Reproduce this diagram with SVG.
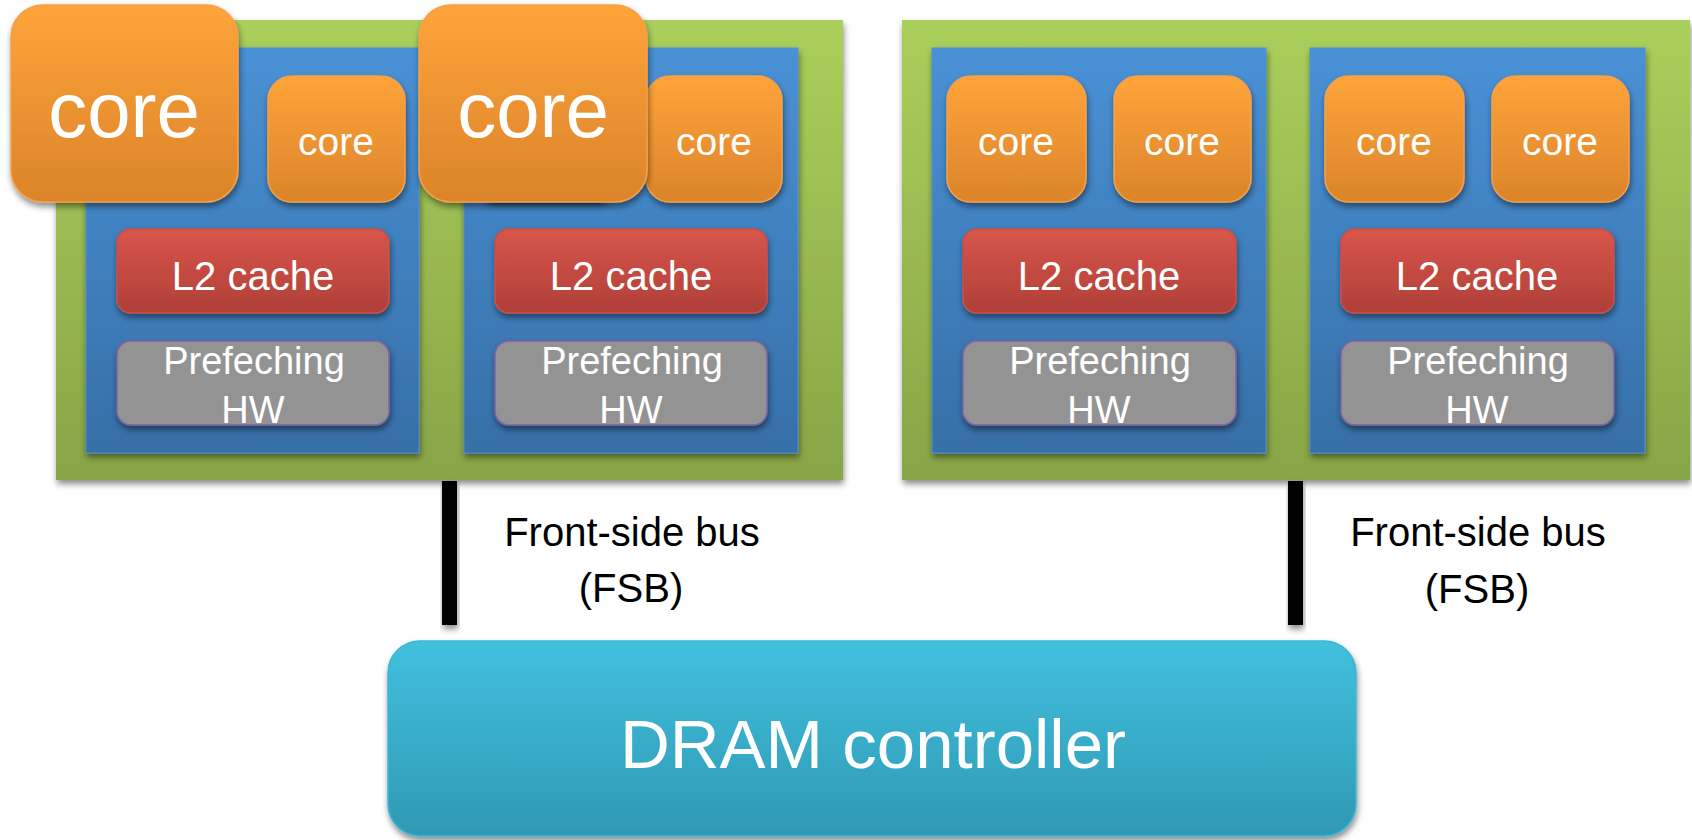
<svg xmlns="http://www.w3.org/2000/svg" width="1692" height="840" viewBox="0 0 1692 840">
  <defs>
    <linearGradient id="gGreen" x1="0" y1="0" x2="0" y2="1">
      <stop offset="0" stop-color="#abcf5b"/>
      <stop offset="1" stop-color="#88a546"/>
    </linearGradient>
    <linearGradient id="gBlue" x1="0" y1="0" x2="0" y2="1">
      <stop offset="0" stop-color="#4a91d6"/>
      <stop offset="1" stop-color="#366fa7"/>
    </linearGradient>
    <linearGradient id="gOrange" x1="0" y1="0" x2="0" y2="1">
      <stop offset="0" stop-color="#fea43a"/>
      <stop offset="1" stop-color="#db842a"/>
    </linearGradient>
    <linearGradient id="gRed" x1="0" y1="0" x2="0" y2="1">
      <stop offset="0" stop-color="#d9564b"/>
      <stop offset="1" stop-color="#af3f38"/>
    </linearGradient>
    <linearGradient id="gCyan" x1="0" y1="0" x2="0" y2="1">
      <stop offset="0" stop-color="#41c0df"/>
      <stop offset="1" stop-color="#2f99b3"/>
    </linearGradient>
    <filter id="shadow" x="-10%" y="-10%" width="130%" height="130%">
      <feDropShadow dx="1" dy="4" stdDeviation="3" flood-color="#000" flood-opacity="0.45"/>
    </filter>
    <filter id="blur" x="-20%" y="-100%" width="140%" height="300%">
      <feGaussianBlur stdDeviation="3"/>
    </filter>
  </defs>
  <style>
    .chip { fill: url(#gGreen); filter: url(#shadow); }
    .die { fill: url(#gBlue); stroke: #4f8fd0; stroke-width: 1; filter: url(#shadow); }
    .core { fill: url(#gOrange); stroke: #f5a04a; stroke-width: 1.5; filter: url(#shadow); }
    .l2 { fill: url(#gRed); stroke: #c95048; stroke-width: 1.5; filter: url(#shadow); }
    .pf { fill: #939393; stroke: #8064a2; stroke-width: 1.5; filter: url(#shadow); }
    .dram { fill: url(#gCyan); stroke: #3cb6d4; stroke-width: 1.5; filter: url(#shadow); }
    .bus { fill: #000; filter: url(#shadow); }
    text { font-family: "Liberation Sans", Arial, sans-serif; fill: #fff; text-anchor: middle; }
    .big { font-size: 78px; }
    .sm { font-size: 39px; }
    .l2t { font-size: 40px; }
    .pft { font-size: 38px; }
    .lbl { font-size: 40px; fill: #000; }
    .dramt { font-size: 69px; }
  </style>

  <!-- processor packages -->
  <g id="chip-left"><rect class="chip" x="56" y="20" width="787" height="460"/></g>
  <g id="chip-right"><rect class="chip" x="902" y="20" width="788" height="460"/></g>

  <!-- dies -->
  <g id="die-1"><rect class="die" x="86" y="48" width="333" height="405"/></g>
  <g id="die-2"><rect class="die" x="464" y="48" width="334" height="405"/></g>
  <g id="die-3"><rect class="die" x="932" y="48" width="334" height="405"/></g>
  <g id="die-4"><rect class="die" x="1310" y="48" width="335" height="405"/></g>

  <!-- cores -->
  <g id="core-1b"><rect class="core" x="268" y="76" width="137" height="126" rx="24"/><text class="sm" x="336" y="155">core</text></g>
  <g id="core-2b"><rect class="core" x="646" y="76" width="136" height="126" rx="24"/><text class="sm" x="714" y="155">core</text></g>
  <g id="core-3a"><rect class="core" x="947" y="76" width="139" height="126" rx="24"/><text class="sm" x="1016" y="155">core</text></g>
  <g id="core-3b"><rect class="core" x="1114" y="76" width="137" height="126" rx="24"/><text class="sm" x="1182" y="155">core</text></g>
  <g id="core-4a"><rect class="core" x="1325" y="76" width="139" height="126" rx="24"/><text class="sm" x="1394" y="155">core</text></g>
  <g id="core-4b"><rect class="core" x="1492" y="76" width="137" height="126" rx="24"/><text class="sm" x="1560" y="155">core</text></g>

  <!-- L2 caches -->
  <g id="l2-1"><rect class="l2" x="117" y="229" width="272" height="84" rx="14"/><text class="l2t" x="253" y="290">L2 cache</text></g>
  <g id="l2-2"><rect class="l2" x="495" y="229" width="272" height="84" rx="14"/><text class="l2t" x="631" y="290">L2 cache</text></g>
  <g id="l2-3"><rect class="l2" x="963" y="229" width="273" height="84" rx="14"/><text class="l2t" x="1099" y="290">L2 cache</text></g>
  <g id="l2-4"><rect class="l2" x="1341" y="229" width="273" height="84" rx="14"/><text class="l2t" x="1477" y="290">L2 cache</text></g>

  <!-- prefetch units -->
  <g id="pf-1"><rect class="pf" x="117" y="341" width="272" height="84" rx="14"/><text class="pft" x="254" y="374">Prefeching</text><text class="pft" x="253" y="423">HW</text></g>
  <g id="pf-2"><rect class="pf" x="495" y="341" width="272" height="84" rx="14"/><text class="pft" x="632" y="374">Prefeching</text><text class="pft" x="631" y="423">HW</text></g>
  <g id="pf-3"><rect class="pf" x="963" y="341" width="273" height="84" rx="14"/><text class="pft" x="1100" y="374">Prefeching</text><text class="pft" x="1099" y="423">HW</text></g>
  <g id="pf-4"><rect class="pf" x="1341" y="341" width="273" height="84" rx="14"/><text class="pft" x="1478" y="374">Prefeching</text><text class="pft" x="1477" y="423">HW</text></g>

  <!-- shadow of the core sitting under the enlarged one -->
  <rect x="487" y="196" width="120" height="9" rx="4" fill="#1c2f45" opacity="0.8" filter="url(#blur)"/>

  <!-- enlarged cores -->
  <g id="core-1a"><rect class="core" x="11" y="5" width="227" height="197" rx="32"/><text class="big" x="124" y="137">core</text></g>
  <g id="core-2a"><rect class="core" x="419" y="5" width="228" height="197" rx="32"/><text class="big" x="533" y="137">core</text></g>

  <!-- front-side buses -->
  <g id="connectors">
    <rect class="bus" x="442" y="481" width="15" height="144"/>
    <rect class="bus" x="1288" y="481" width="15" height="144"/>
  </g>
  <g id="fsb-label-1"><text class="lbl" x="632" y="546">Front-side bus</text><text class="lbl" x="631" y="602">(FSB)</text></g>
  <g id="fsb-label-2"><text class="lbl" x="1478" y="546">Front-side bus</text><text class="lbl" x="1477" y="603">(FSB)</text></g>

  <!-- memory controller -->
  <g id="dram"><rect class="dram" x="388" y="641" width="968" height="195" rx="32"/><text class="dramt" x="873" y="768">DRAM controller</text></g>
</svg>
